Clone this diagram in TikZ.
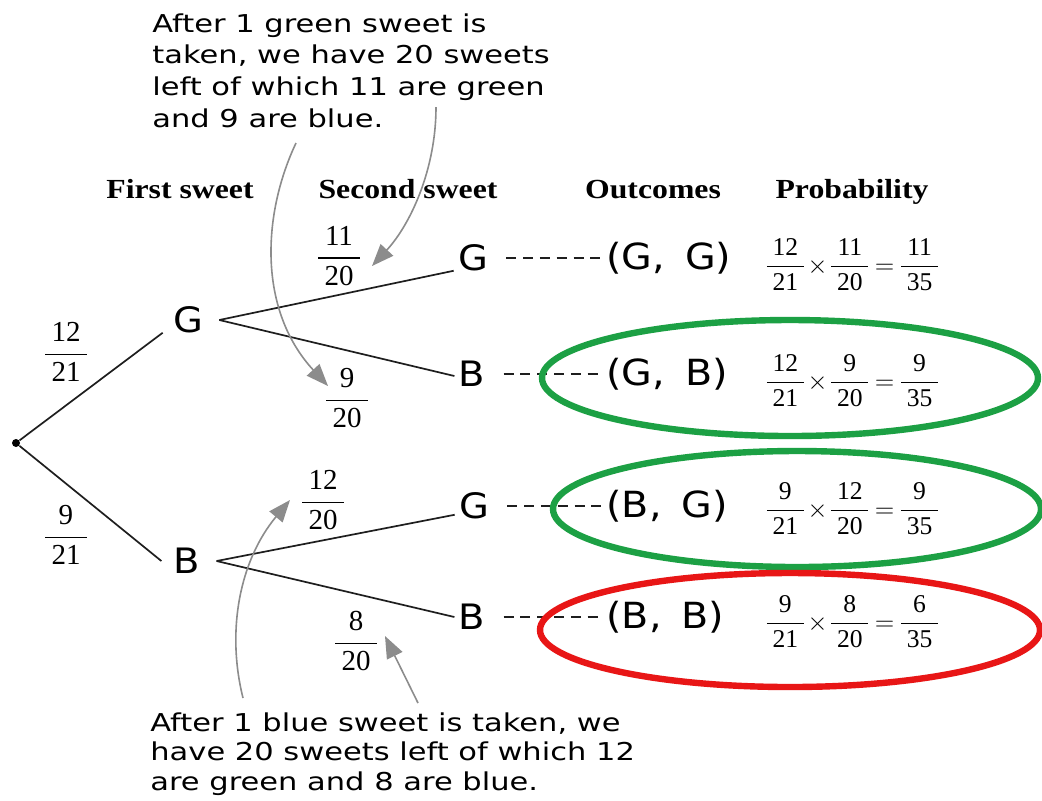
\RequirePackage{fix-cm}
\documentclass[tikz,border=0pt]{standalone}
\usepackage{amsmath}
\usepackage{fontspec}
\setmainfont{Liberation Serif}
\newfontfamily\annotfont[FakeStretch=1.24]{DejaVu Sans}
\newfontfamily\treefont[FakeStretch=1.1]{DejaVu Sans}
\newfontfamily\headfont[FakeStretch=1.15]{Liberation Serif}
\usetikzlibrary{arrows.meta}
\definecolor{hlgreen}{RGB}{28,160,68}
\definecolor{hlred}{RGB}{232,22,22}
\definecolor{notegray}{RGB}{140,140,140}
\definecolor{treeline}{RGB}{30,30,30}
\newcommand{\fr}[2]{\ensuremath{\dfrac{\mkern4mu\text{#1}\mkern4mu}{\mkern4mu\text{#2}\mkern4mu}}}
\begin{document}
\begin{tikzpicture}[x=0.5pt,y=-0.5pt,
  tree/.style={font=\treefont\fontsize{17.5}{20}\selectfont, inner sep=2pt},
  outcome/.style={font=\treefont\fontsize{18}{21}\selectfont, inner sep=1pt, anchor=west},
  bfrac/.style={font=\fontsize{14.5}{17}\selectfont, inner sep=0pt},
  pfrac/.style={font=\fontsize{12.8}{15}\selectfont, inner sep=0pt, anchor=west},
  head/.style={font=\headfont\bfseries\fontsize{13.8}{16}\selectfont, inner sep=0pt, anchor=base},
  topnote/.style={font=\annotfont\fontsize{12.3}{15.85}\selectfont, align=left, inner sep=0pt, anchor=north west},
  botnote/.style={font=\annotfont\fontsize{12.3}{14.8}\selectfont, align=left, inner sep=0pt, anchor=north west},
  branch/.style={draw=treeline, line width=0.85pt},
  dashline/.style={draw=treeline, line width=0.8pt, dash pattern=on 5pt off 3.4pt},
  notearrow/.style={draw=notegray, line width=0.8pt, -{Triangle[length=11pt,width=8.5pt]}},
  ring/.style={line width=3.2pt}
]
\useasboundingbox (0,0) rectangle (1042,800);
\fill[white] (0,0) rectangle (1042,800);

% headers
\node[head] (h1) at (180,198) {First sweet};
\node[head] (h2) at (408,198) {Second sweet};
\node[head] (h3) at (653,198) {Outcomes};
\node[head] (h4) at (852,198) {Probability};

% annotations
\node[topnote] (n1) at (152,13) {After 1 green sweet is\\taken, we have 20 sweets\\left of which 11 are green\\and 9 are blue.};
\node[botnote] (n2) at (150,712) {After 1 blue sweet is taken, we\\have 20 sweets left of which 12\\are green and 8 are blue.};

% tree
\node[circle, fill=black, inner sep=0pt, minimum size=4pt] (root) at (16,443) {};
\node[tree] (G1) at (188,320) {G};
\node[tree] (B1) at (187,561) {B};
\node[tree] (G2) at (473,258) {G};
\node[tree] (B2) at (472,374) {B};
\node[tree] (G3) at (474,506) {G};
\node[tree] (B3) at (472,617) {B};

\draw[branch] (root) -- ([xshift=-3pt]G1.base west);
\draw[branch] (root) -- ([xshift=-4pt]B1.west);
\draw[branch] ([xshift=6pt]G1.east) -- (G2.base west);
\draw[branch] ([xshift=6pt]G1.east) -- ([yshift=-1pt]B2.west);
\draw[branch] ([xshift=6pt]B1.east) -- ([yshift=2pt]G3.base west);
\draw[branch] ([xshift=6pt]B1.east) -- (B3.west);

% branch probabilities
\node[bfrac] (f1) at (66,352) {\fr{12}{21}};
\node[bfrac] (f2) at (66,535) {\fr{9}{21}};
\node[bfrac] (f3) at (339,256) {\fr{11}{20}};
\node[bfrac] (f4) at (347,398) {\fr{9}{20}};
\node[bfrac] (f5) at (323,500) {\fr{12}{20}};
\node[bfrac] (f6) at (356,641) {\fr{8}{20}};

% outcomes
\node[outcome] (O1) at (604,258) {(G,\kern10pt G)};
\node[outcome] (O2) at (604,374) {(G,\kern10pt B)};
\node[outcome] (O3) at (604,506) {(B,\kern10pt G)};
\node[outcome] (O4) at (604,617) {(B,\kern10pt B)};

\draw[dashline] ([xshift=7pt]G2.east) -- (O1.west);
\draw[dashline] ([xshift=7pt]B2.east) -- (O2.west);
\draw[dashline] ([xshift=7pt]G3.east) -- (O3.west);
\draw[dashline] ([xshift=7pt]B3.east) -- (O4.west);

% probabilities
\node[pfrac] (P1) at (764,265) {$\fr{12}{21}\mkern1mu{\times}\mkern1mu\fr{11}{20}\mkern3mu{=}\mkern3mu\fr{11}{35}$};
\node[pfrac] (P2) at (764,381) {$\fr{12}{21}\mkern1mu{\times}\mkern1mu\fr{9}{20}\mkern3mu{=}\mkern3mu\fr{9}{35}$};
\node[pfrac] (P3) at (764,509) {$\fr{9}{21}\mkern1mu{\times}\mkern1mu\fr{12}{20}\mkern3mu{=}\mkern3mu\fr{9}{35}$};
\node[pfrac] (P4) at (764,622) {$\fr{9}{21}\mkern1mu{\times}\mkern1mu\fr{8}{20}\mkern3mu{=}\mkern3mu\fr{6}{35}$};

% highlight rings
\draw[ring, hlgreen] (790,378) ellipse [x radius=124pt, y radius=29pt];
\draw[ring, hlgreen] (797,509) ellipse [x radius=122pt, y radius=29pt];
\draw[ring, hlred] (790,630) ellipse [x radius=125pt, y radius=28.5pt];

% annotation arrows
\coordinate (a1s) at (296,143);
\coordinate (a1e) at (328,386);
\coordinate (a2s) at (436,107);
\coordinate (a2e) at (372,266);
\coordinate (a3s) at (243,698);
\coordinate (a3e) at (290,500);
\coordinate (a4s) at (418,703);
\coordinate (a4e) at (385,636);
\draw[notearrow] (a1s) .. controls (262,215) and (258,310) .. (a1e);
\draw[notearrow] (a2s) .. controls (436,170) and (410,225) .. (a2e);
\draw[notearrow] (a3s) .. controls (226,630) and (240,560) .. (a3e);
\draw[notearrow] (a4s) -- (a4e);
\end{tikzpicture}
\end{document}
